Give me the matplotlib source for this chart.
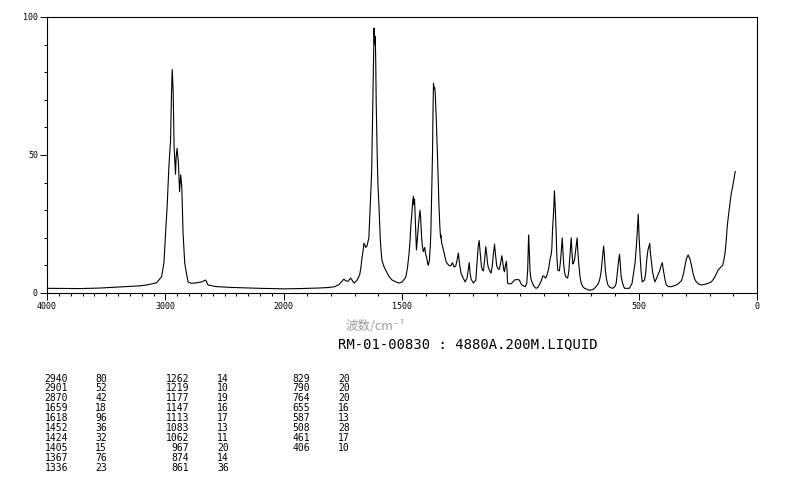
import numpy as np
import matplotlib
matplotlib.use("Agg")
import matplotlib.pyplot as plt
from matplotlib.ticker import FixedLocator, MultipleLocator, NullFormatter

# ---- spectrum (wavenumber cm-1, relative intensity) ----
wavenumber = [
    4000, 3720, 3551, 3383, 3214, 3158, 3074, 3032, 3012, 2998, 2985, 2970, 2956, 2948,
    2942, 2934, 2926, 2914, 2909, 2901, 2889, 2880, 2870, 2861, 2850, 2836, 2821, 2808,
    2779, 2737, 2695, 2659, 2639, 2569, 2429, 2204,
    2000, 1936, 1852, 1809, 1784, 1767, 1754, 1746, 1737, 1729, 1717, 1712, 1703, 1691,
    1679, 1674, 1670, 1665, 1661, 1657, 1654, 1648, 1640, 1636, 1631, 1628, 1625, 1621,
    1618, 1616, 1613, 1611, 1609, 1605, 1602, 1597, 1593, 1590, 1585, 1576, 1569, 1555,
    1542, 1525, 1513, 1500, 1492, 1484, 1477, 1470, 1466, 1463, 1459, 1455, 1452, 1449,
    1447, 1445, 1441, 1439, 1435, 1431, 1428, 1424, 1421, 1417, 1414, 1410, 1404, 1400,
    1396, 1392, 1389, 1384, 1380, 1378, 1375, 1371, 1369, 1367, 1364, 1362, 1360, 1355,
    1351, 1347, 1344, 1340, 1337, 1336, 1332, 1329, 1322, 1317, 1312, 1307, 1301, 1294,
    1287, 1280, 1273, 1267, 1262, 1256, 1250, 1242, 1233, 1225, 1221, 1216, 1212, 1208,
    1198, 1188, 1181, 1178, 1174, 1171, 1168, 1164, 1160, 1156, 1151, 1146, 1142, 1139,
    1136, 1131, 1124, 1119, 1114, 1109, 1105, 1100, 1096, 1089, 1083, 1078, 1074, 1070,
    1067, 1063, 1059, 1056, 1054, 1047, 1038, 1025, 1013, 1004, 998, 992, 979, 973,
    969, 966, 965, 963, 959, 955, 951, 943, 934, 926, 920, 911, 906, 901,
    894, 890, 884, 880, 875, 870, 867, 864, 859, 856, 853, 849, 846, 842,
    835, 831, 827, 823, 820, 817, 813, 809, 800, 795, 790, 785, 782, 778,
    775, 771, 767, 760, 757, 753, 748, 743, 736, 729, 708, 694, 680, 672,
    665, 659, 654, 651, 648, 645, 641, 636, 630, 621, 609, 600, 595, 592,
    588, 585, 581, 578, 574, 568, 560, 539, 528, 522, 515, 510, 506, 502,
    498, 493, 489, 485, 475, 470, 466, 461, 453, 451, 447, 441, 432, 426,
    419, 411, 407, 400, 397, 393, 388, 383, 373, 362, 341, 331, 319, 312,
    305, 298, 291, 287, 284, 277, 270, 263, 256, 246, 235, 214, 193, 183,
    174, 164, 155, 145, 140, 135, 130, 126, 120, 114, 109, 103, 97, 92,
]
intensity = [
    1.7, 1.6, 1.8, 2.2, 2.6, 2.9, 3.7, 5.9, 10.8, 21.7, 31, 45.8, 55, 72,
    81, 73.5, 53, 43, 49, 52.4, 47, 36.7, 42.8, 38.5, 21.6, 10.8, 7, 4,
    3.5, 3.7, 4, 4.7, 2.9, 2.3, 2, 1.7,
    1.5, 1.6, 1.8, 2.0, 2.3, 3.0, 4.2, 5.0, 4.4, 4.2, 5.4, 4.8, 3.6, 4.5,
    6.5, 9, 12, 15, 18, 17.5, 16.5, 17, 20, 28, 38, 45, 60, 80,
    96, 90, 93, 84, 69, 51, 40, 31, 22, 17, 12, 9.5, 8.3, 6,
    4.7, 4, 3.6, 4, 4.8, 5.8, 9, 14.5, 19, 24, 28, 33, 35, 32,
    34, 29, 20, 15.6, 20, 24, 27, 30, 27, 20, 17, 15, 16.5, 14,
    13, 11, 10, 12, 18, 22, 35, 51, 66, 76, 74, 74.5, 73, 62.7,
    52, 41, 32, 24, 20, 21, 18, 17, 14.5, 12.5, 11, 10.5, 10, 9.8,
    11, 9.4, 9.8, 12, 14.5, 10, 7, 5.5, 4, 5.5, 8, 11, 7, 5,
    3.6, 4.7, 13, 17, 19, 16, 13, 9.5, 8.3, 8, 12, 16.8, 14, 11,
    9.5, 8.3, 7.2, 9.5, 14, 17.7, 14, 10, 9, 8.5, 11, 13.5, 11, 8.5,
    7.7, 10, 11.5, 8, 3.6, 3.3, 3.4, 4.7, 4.9, 4.7, 3.5, 2.8, 2.3, 3.5,
    8.3, 18, 21, 17, 8, 5, 4, 2.5, 1.7, 2, 2.9, 4.5, 6, 6.2,
    5.4, 5.8, 7.5, 9, 12, 13.8, 16, 22.8, 30, 37, 32, 22.8, 14, 8.3,
    8, 11, 15, 20, 15, 10.5, 7.5, 6, 5.4, 8, 14, 20, 15, 10.5,
    11, 12, 15, 20, 15, 10.5, 6, 3.6, 2.3, 1.7, 1.0, 1.2, 2.3, 3.2,
    4.7, 7.5, 12, 15, 17, 14, 8.3, 5, 2.9, 2, 1.7, 2.4, 3.5, 6,
    9.5, 11.5, 14, 11, 6, 3.5, 1.7, 1.7, 3.5, 7, 11, 16.8, 22, 28.6,
    20, 12, 7, 4, 4.7, 7.5, 12, 15.5, 18, 15, 12, 7.5, 4, 5,
    6.5, 8, 9.5, 11, 9, 7, 4.5, 2.9, 2.3, 2.3, 2.9, 3.5, 4.5, 6.5,
    9.5, 12.5, 13.8, 13, 12.6, 10, 7, 5, 4, 3.2, 2.9, 3.3, 4, 5.2,
    6.5, 8.3, 9.2, 10, 12, 14.4, 19, 24, 28.5, 32.5, 36, 38.5, 41.5, 44,
]

# ---- axis ticks ----
x_major = [4000, 3000, 2000, 1500, 500, 0]
x_labels = ["4000", "3000", "2000", "1500", "500", "0"]
y_major = [0, 50, 100]
y_labels = ["0", "50", "100"]

# ---- peak table ----
peak_wn_1 = ["2940", "2901", "2870", "1659", "1618", "1452", "1424", "1405", "1367", "1336"]
peak_in_1 = ["80", "52", "42", "18", "96", "36", "32", "15", "76", "23"]
peak_wn_2 = ["1262", "1219", "1177", "1147", "1113", "1083", "1062", "967", "874", "861"]
peak_in_2 = ["14", "10", "19", "16", "17", "13", "11", "20", "14", "36"]
peak_wn_3 = ["829", "790", "764", "655", "587", "508", "461", "406"]
peak_in_3 = ["20", "20", "20", "16", "13", "28", "17", "10"]

title_text = "RM-01-00830 : 4880A.200M.LIQUID"
xlabel_text = "波数/cm⁻¹"

W, H = 794, 482
fig = plt.figure(figsize=(W / 100, H / 100), dpi=100)
ax = fig.add_axes([47 / W, 1 - 293 / H, 710 / W, 276 / H])


def fwd(v):
    v = np.asarray(v, dtype=float)
    return np.where(v > 2000, 2000 + (v - 2000) / 2.0, v)


def inv(t):
    t = np.asarray(t, dtype=float)
    return np.where(t > 2000, 2000 + (t - 2000) * 2.0, t)


ax.set_xscale("function", functions=(fwd, inv))
ax.plot(wavenumber, intensity, color="black", lw=0.8)
ax.set_xlim(4000, 0)
ax.set_ylim(0, 100)

mono = "DejaVu Sans Mono"
ax.xaxis.set_major_locator(FixedLocator(x_major))
ax.set_xticklabels(x_labels, fontfamily=mono, fontsize=6)
ax.xaxis.set_minor_locator(MultipleLocator(100))
ax.xaxis.set_minor_formatter(NullFormatter())
ax.yaxis.set_major_locator(FixedLocator(y_major))
ax.set_yticklabels(y_labels, fontfamily=mono, fontsize=6)
ax.yaxis.set_minor_locator(MultipleLocator(10))

ax.tick_params(axis="both", which="major", direction="out", length=5, width=0.7, pad=1.5)
ax.tick_params(axis="both", which="minor", direction="out", length=2, width=0.7)
ax.tick_params(top=False, right=False)
for s in ax.spines.values():
    s.set_linewidth(0.8)

# axis label and title
fig.text(375 / W, 1 - 326 / H, xlabel_text, ha="center", va="center",
         fontsize=9, color="#9a9a9a", family=["Noto Sans CJK SC", "DejaVu Sans"])
fig.text(468 / W, 1 - 344 / H, title_text, ha="center", va="center",
         fontsize=10, family=mono, color="black")

# peak table
row0, dy = 378.5, 9.9
cols = [(68, 95, peak_wn_1, peak_in_1), (189, 217, peak_wn_2, peak_in_2),
        (310, 338, peak_wn_3, peak_in_3)]
for xr, xl, wns, ins in cols:
    for i, (w, v) in enumerate(zip(wns, ins)):
        y = 1 - (row0 + i * dy) / H
        fig.text(xr / W, y, w, ha="right", va="center", fontsize=7, family=mono)
        fig.text(xl / W, y, v, ha="left", va="center", fontsize=7, family=mono)

fig.savefig("out.png", dpi=100)
